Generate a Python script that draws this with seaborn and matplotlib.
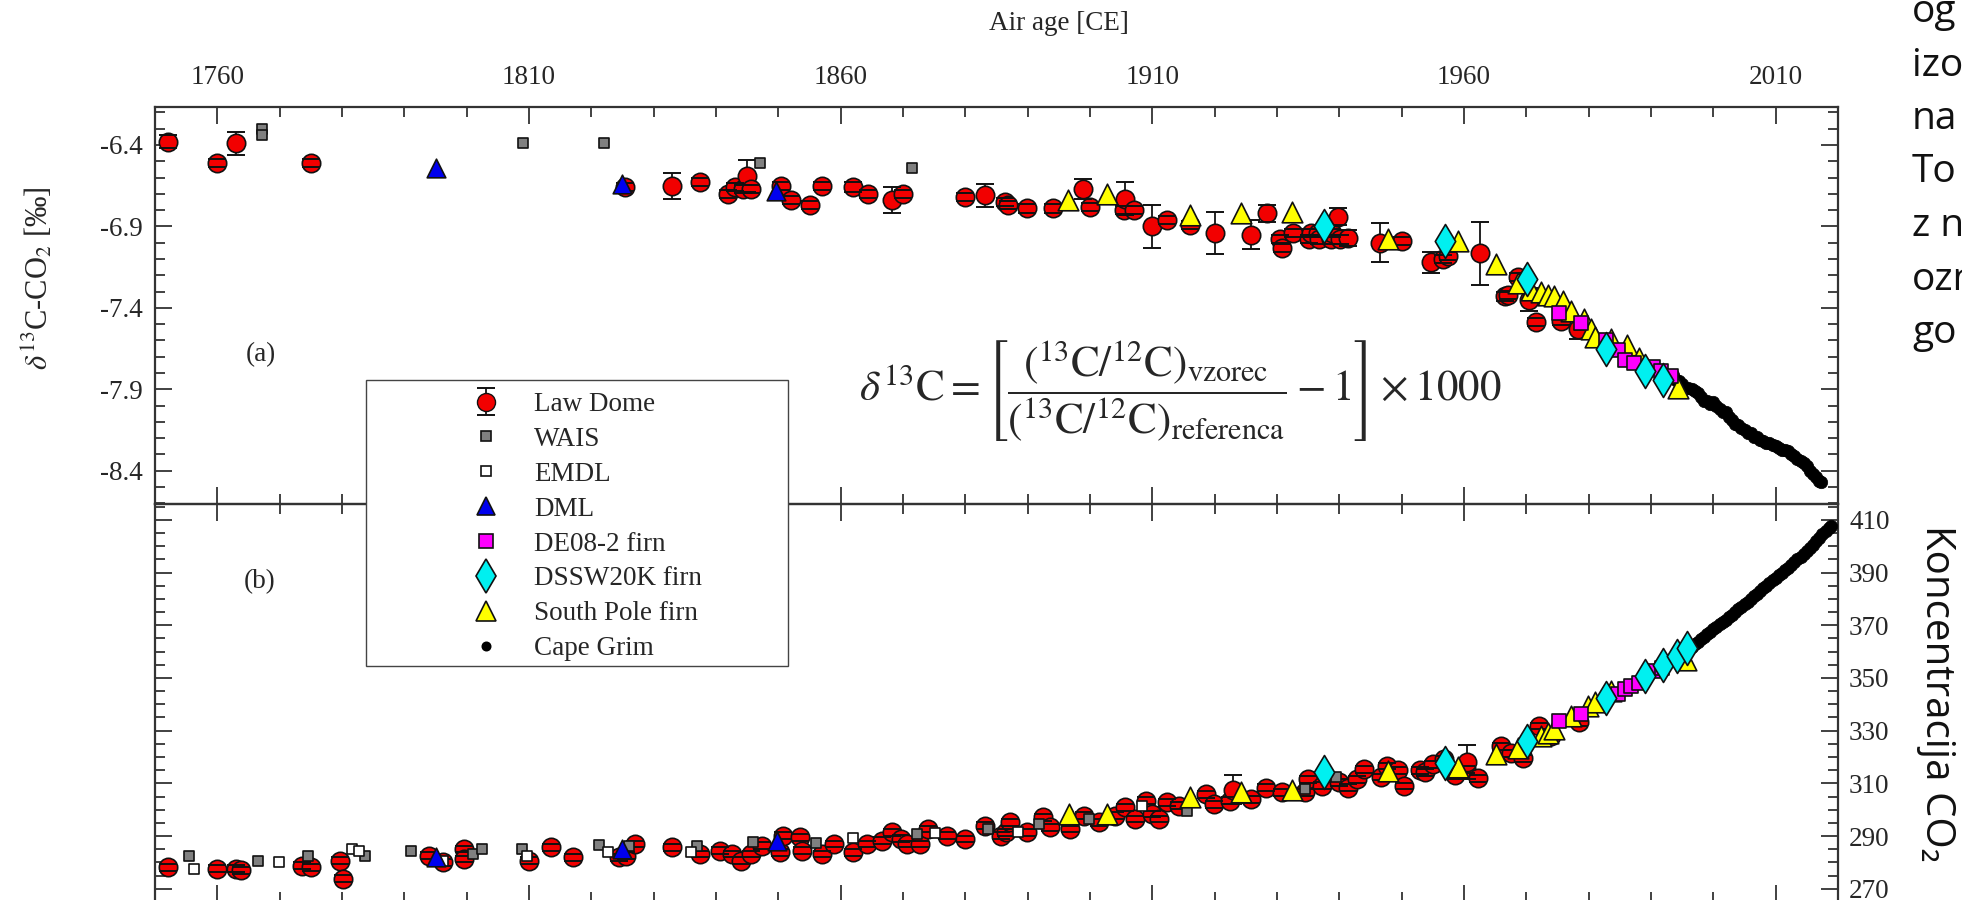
import numpy as np
import matplotlib
matplotlib.use("Agg")
import matplotlib.pyplot as plt
from matplotlib.lines import Line2D
from matplotlib.patches import Rectangle
from matplotlib.ticker import FixedLocator, FormatStrFormatter
import seaborn as sns

# ---------------- data ----------------
# panel (a): d13C-CO2 [permil]
ld_a_year = [1752.1, 1760.0, 1763.0, 1775.0, 1825.4, 1833.0, 1837.4, 1842.0, 1843.0, 1844.3,
             1845.0, 1845.6, 1850.5, 1852.0, 1855.0, 1857.0, 1862.0, 1864.4, 1868.2, 1870.0,
             1880.0, 1883.2, 1886.4, 1886.8, 1889.9, 1894.0, 1898.8, 1900.0, 1905.4, 1905.6,
             1907.0, 1909.9, 1912.4, 1916.0, 1920.0, 1925.8, 1928.4, 1930.5, 1930.8, 1932.6,
             1935.1, 1935.4, 1936.5, 1936.8, 1938.6, 1938.8, 1939.8, 1940.1, 1941.4, 1946.5,
             1950.0, 1954.7, 1956.6, 1957.4, 1962.6, 1966.5, 1967.0, 1968.7, 1970.4, 1971.6,
             1975.6, 1978.3]
ld_a_val = [-6.38, -6.51, -6.39, -6.51, -6.66, -6.65, -6.63, -6.70, -6.66, -6.67,
            -6.59, -6.67, -6.65, -6.74, -6.77, -6.65, -6.66, -6.70, -6.74, -6.70,
            -6.72, -6.71, -6.75, -6.77, -6.79, -6.79, -6.67, -6.78, -6.80, -6.73,
            -6.80, -6.90, -6.86, -6.89, -6.94, -6.95, -6.82, -6.975, -7.03, -6.94,
            -6.975, -6.94, -6.94, -6.98, -6.98, -6.94, -6.84, -6.98, -6.97, -7.00,
            -6.99, -7.12, -7.10, -7.08, -7.065, -7.33, -7.32, -7.21, -7.35, -7.485,
            -7.48, -7.53]
ld_a_err = [0.04, 0.025, 0.07, 0.025, 0.025, 0.08, 0.025, 0.025, 0.025, 0.025,
            0.10, 0.025, 0.025, 0.025, 0.025, 0.025, 0.03, 0.025, 0.08, 0.025,
            0.025, 0.07, 0.025, 0.025, 0.025, 0.025, 0.06, 0.025, 0.025, 0.10,
            0.025, 0.13, 0.025, 0.025, 0.13, 0.09, 0.05, 0.025, 0.025, 0.025,
            0.025, 0.025, 0.025, 0.025, 0.025, 0.025, 0.05, 0.025, 0.05, 0.12,
            0.025, 0.065, 0.025, 0.025, 0.195, 0.025, 0.025, 0.025, 0.07, 0.025,
            0.025, 0.06]

wais_a_year = [1767.1, 1767.1, 1809.0, 1822.0, 1847.0, 1871.4]
wais_a_val = [-6.30, -6.34, -6.39, -6.39, -6.51, -6.54]

dml_a_year = [1795.0, 1824.9, 1849.6]
dml_a_val = [-6.54, -6.64, -6.68]

sp_a_year = [1896.4, 1902.7, 1916.0, 1924.3, 1932.4, 1947.8, 1959.0, 1965.1, 1968.6, 1970.7,
             1972.4, 1973.5, 1974.5, 1975.9, 1977.2, 1979.3, 1980.4, 1981.0, 1983.6, 1986.1,
             1988.0, 1994.4]
sp_a_val = [-6.74, -6.70, -6.83, -6.82, -6.81, -6.98, -6.99, -7.13, -7.25, -7.29,
            -7.30, -7.32, -7.33, -7.36, -7.42, -7.47, -7.53, -7.58, -7.59, -7.63,
            -7.71, -7.89]

de08_a_year = [1975.3, 1978.7, 1982.8, 1984.7, 1985.8, 1987.3, 1990.3, 1991.6, 1993.2]
de08_a_val = [-7.43, -7.49, -7.60, -7.66, -7.72, -7.74, -7.76, -7.79, -7.82]

dssw_a_year = [1937.6, 1957.0, 1970.1, 1982.8, 1989.1, 1992.0]
dssw_a_val = [-6.90, -6.99, -7.22, -7.65, -7.79, -7.84]

cg_a_year = [1993.5, 1994.0, 1994.5, 1995.0, 1995.5, 1996.0, 1996.5, 1997.0, 1997.5, 1998.0,
             1998.5, 1999.0, 1999.5, 2000.0, 2000.5, 2001.0, 2001.5, 2002.0, 2002.5, 2003.0,
             2003.5, 2004.0, 2004.5, 2005.0, 2005.5, 2006.0, 2006.5, 2007.0, 2007.5, 2008.0,
             2008.5, 2009.0, 2009.5, 2010.0, 2010.5, 2011.0, 2011.5, 2012.0, 2012.5, 2013.0,
             2013.5, 2014.0, 2014.5, 2015.0, 2015.5, 2016.0, 2016.5, 2017.0, 2017.3]
cg_a_val = [-7.81, -7.84, -7.85, -7.87, -7.89, -7.89, -7.90, -7.91, -7.92, -7.95,
            -7.97, -7.97, -7.99, -7.98, -8.00, -8.02, -8.04, -8.04, -8.07, -8.09,
            -8.11, -8.12, -8.14, -8.15, -8.17, -8.17, -8.19, -8.19, -8.21, -8.22,
            -8.23, -8.23, -8.24, -8.25, -8.26, -8.27, -8.27, -8.28, -8.30, -8.31,
            -8.33, -8.34, -8.35, -8.37, -8.40, -8.42, -8.44, -8.46, -8.47]

# panel (b): CO2 [ppm]
ld_b_year = [1752.1, 1760.0, 1763.0, 1763.8, 1773.6, 1775.0, 1779.6, 1780.2, 1793.9, 1796.2,
             1799.5, 1799.5, 1810.0, 1813.6, 1817.0, 1824.5, 1825.5, 1827.0, 1833.0, 1837.4,
             1840.6, 1842.6, 1844.0, 1845.6, 1847.4, 1850.3, 1850.7, 1853.5, 1853.8, 1857.0,
             1858.9, 1862.0, 1864.3, 1866.7, 1868.2, 1869.6, 1870.7, 1872.8, 1874.0, 1877.0,
             1880.0, 1883.2, 1885.7, 1886.5, 1887.2, 1889.9, 1892.5, 1893.6, 1896.8, 1899.0,
             1901.5, 1904.0, 1905.6, 1907.2, 1909.0, 1910.0, 1911.1, 1912.4, 1914.3, 1918.6,
             1919.9, 1922.5, 1922.9, 1925.8, 1928.3, 1930.8, 1934.5, 1935.0, 1937.2, 1940.0,
             1941.4, 1942.8, 1944.0, 1946.7, 1947.6, 1949.4, 1950.3, 1953.0, 1953.7, 1955.0,
             1956.8, 1958.5, 1960.4, 1960.5, 1962.2, 1966.0, 1967.5, 1969.5, 1972.0, 1974.0,
             1978.5]
ld_b_val = [278.2, 277.6, 277.6, 277.0, 278.8, 278.2, 280.7, 273.8, 282.6, 280.1,
            285.1, 281.3, 280.7, 285.7, 282.0, 282.0, 282.6, 287.0, 285.7, 283.2,
            284.5, 283.2, 280.7, 283.2, 286.4, 283.9, 290.2, 289.6, 284.5, 283.2,
            287.0, 283.9, 287.0, 288.3, 291.5, 289.0, 287.0, 287.0, 292.7, 290.2,
            288.9, 294.0, 290.2, 291.5, 295.2, 291.5, 297.2, 293.4, 292.7, 297.8,
            295.2, 297.8, 300.9, 296.5, 303.4, 298.4, 296.5, 302.8, 301.5, 305.9,
            302.1, 303.4, 307.5, 304.0, 308.4, 306.6, 306.6, 311.6, 309.1, 310.4,
            308.4, 311.6, 315.4, 312.4, 316.6, 314.9, 309.0, 314.9, 314.2, 317.3,
            319.2, 313.0, 315.4, 318.0, 312.0, 324.0, 321.5, 319.5, 331.8, 328.0,
            333.2]
ld_b_err = [1.3] * 62 + [5.5] + [1.3] * 20 + [6.5] + [1.3] * 7

wais_b_year = [1755.5, 1766.5, 1774.6, 1783.7, 1791.0, 1801.0, 1802.5, 1808.9, 1821.2, 1826.0,
               1837.0, 1846.0, 1856.0, 1872.3, 1883.6, 1891.8, 1899.9, 1915.6, 1934.5, 1939.5]
wais_b_val = [282.6, 280.5, 282.6, 282.3, 284.2, 283.2, 285.1, 285.1, 286.7, 286.4,
              286.4, 287.8, 287.4, 290.8, 292.7, 294.6, 296.5, 299.6, 307.8, 312.4]

emdl_b_year = [1756.2, 1769.9, 1781.6, 1782.8, 1796.2, 1809.6, 1822.7, 1836.0, 1862.0, 1875.1,
               1888.4, 1908.3]
emdl_b_val = [277.6, 280.1, 285.1, 284.5, 280.7, 282.3, 283.9, 283.9, 289.2, 291.0,
              291.5, 301.5]

dml_b_year = [1795.0, 1824.9, 1849.8]
dml_b_val = [282.0, 285.1, 288.3]

sp_b_year = [1896.6, 1902.7, 1916.1, 1924.2, 1932.4, 1947.8, 1959.0, 1965.2, 1968.6, 1972.3,
             1973.4, 1974.5, 1977.2, 1979.9, 1981.0, 1983.6, 1995.6]
sp_b_val = [298.4, 298.4, 304.7, 306.6, 307.6, 314.8, 316.4, 321.1, 323.6, 328.0,
            329.3, 330.5, 335.6, 339.4, 340.7, 345.0, 357.0]

de08_b_year = [1975.3, 1978.8, 1984.7, 1985.8, 1986.8, 1988.0, 1990.4, 1991.7]
de08_b_val = [333.5, 336.5, 343.8, 345.7, 346.9, 348.2, 352.6, 353.8]

dssw_b_year = [1937.6, 1957.0, 1970.1, 1982.8, 1989.1, 1992.0, 1994.1, 1995.8]
dssw_b_val = [314.2, 317.7, 326.1, 342.5, 350.7, 354.8, 358.3, 361.5]

cg_b_year = [1994.0, 1994.5, 1995.0, 1995.5, 1996.0, 1996.5, 1997.0, 1997.5, 1998.0, 1998.5,
             1999.0, 1999.5, 2000.0, 2000.5, 2001.0, 2001.5, 2002.0, 2002.5, 2003.0, 2003.5,
             2004.0, 2004.5, 2005.0, 2005.5, 2006.0, 2006.5, 2007.0, 2007.5, 2008.0, 2008.5,
             2009.0, 2009.5, 2010.0, 2010.5, 2011.0, 2011.5, 2012.0, 2012.5, 2013.0, 2013.5,
             2014.0, 2014.5, 2015.0, 2015.5, 2016.0, 2016.5, 2017.0, 2017.5, 2018.0, 2018.5,
             2018.8]
cg_b_val = [357.5, 358.3, 359.2, 360.0, 361.0, 361.9, 362.8, 363.8, 364.6, 365.6,
            366.5, 367.4, 368.6, 369.4, 370.3, 371.3, 372.1, 373.2, 374.0, 375.1,
            376.0, 377.0, 378.0, 379.0, 379.9, 381.0, 381.9, 383.0, 384.0, 385.0,
            385.9, 387.0, 388.0, 389.0, 389.9, 391.0, 391.9, 393.0, 393.9, 395.1,
            396.0, 397.2, 398.1, 399.4, 400.6, 402.0, 403.2, 404.6, 405.7, 406.8,
            407.5]

year_major = [1760, 1810, 1860, 1910, 1960, 2010]
d13c_major = [-6.4, -6.9, -7.4, -7.9, -8.4]
co2_major = [270, 290, 310, 330, 350, 370, 390, 410]

legend_labels = ["Law Dome", "WAIS", "EMDL", "DML", "DE08-2 firn",
                 "DSSW20K firn", "South Pole firn", "Cape Grim"]

# ---------------- style ----------------
sns.set_style("white")
plt.rcParams["font.family"] = ["Liberation Serif", "DejaVu Serif"]
plt.rcParams["axes.unicode_minus"] = False
plt.rcParams["mathtext.fontset"] = "stix"

RED = "#f20000"
GRAY = "#808080"
BLUE = "#0000ee"
YELLOW = "#ffff00"
MAGENTA = "#ff00ff"
CYAN = "#00f0f0"
EDGE = "#111111"
SPINE = "#333333"
FS = 19.5

W, H = 1962, 900
fig = plt.figure(figsize=(W / 100, H / 100), dpi=100)
left, right = 155, 1838
top, mid, bottom = 107, 504, 902
ax_a = fig.add_axes([left / W, 1 - mid / H, (right - left) / W, (mid - top) / H])
ax_b = fig.add_axes([left / W, 1 - bottom / H, (right - left) / W, (bottom - mid) / H])


def scatter(ax, x, y, marker, s, color, z, edge=EDGE, lw=1.2):
    sns.scatterplot(x=x, y=y, ax=ax, marker=marker, s=s, color=color,
                    edgecolor=edge, linewidth=lw, zorder=z, legend=False)


def law_dome(ax, x, y, err, cap):
    scatter(ax, x, y, "o", 175, RED, 3)
    _, caps, bars = ax.errorbar(x, y, yerr=err, fmt="none", ecolor=EDGE,
                                elinewidth=1.3, capsize=cap, capthick=1.4)
    for c in caps:
        c.set_zorder(3.5)
    for b in bars:
        b.set_zorder(2.5)


def draw_panel(ax, d):
    law_dome(ax, d["ld"][0], d["ld"][1], d["ld"][2], 6.3)
    if d.get("wais"):
        scatter(ax, *d["wais"], "s", 50, GRAY, 4)
    if d.get("emdl"):
        scatter(ax, *d["emdl"], "s", 45, "white", 4)
    scatter(ax, *d["dml"], "^", 180, BLUE, 4)
    scatter(ax, *d["cg"], "o", 80, "black", 5, edge="black", lw=0.5)
    scatter(ax, *d["sp"], "^", 220, YELLOW, 5.5)
    scatter(ax, *d["de08"], "s", 100, MAGENTA, 6)
    scatter(ax, *d["dssw"], "d", 300, CYAN, 7)


draw_panel(ax_a, {"ld": (ld_a_year, ld_a_val, ld_a_err),
                  "wais": (wais_a_year, wais_a_val),
                  "dml": (dml_a_year, dml_a_val),
                  "cg": (cg_a_year, cg_a_val),
                  "sp": (sp_a_year, sp_a_val),
                  "de08": (de08_a_year, de08_a_val),
                  "dssw": (dssw_a_year, dssw_a_val)})
draw_panel(ax_b, {"ld": (ld_b_year, ld_b_val, ld_b_err),
                  "wais": (wais_b_year, wais_b_val),
                  "emdl": (emdl_b_year, emdl_b_val),
                  "dml": (dml_b_year, dml_b_val),
                  "cg": (cg_b_year, cg_b_val),
                  "sp": (sp_b_year, sp_b_val),
                  "de08": (de08_b_year, de08_b_val),
                  "dssw": (dssw_b_year, dssw_b_val)})

# axes limits and ticks
for ax in (ax_a, ax_b):
    ax.set_xlim(1750, 2020)
    ax.xaxis.set_major_locator(FixedLocator(year_major))
    ax.xaxis.set_minor_locator(FixedLocator(list(range(1750, 2021, 10))))
    ax.set_xlabel("")
    ax.set_ylabel("")
    for sp in ax.spines.values():
        sp.set_color(SPINE)
        sp.set_linewidth(1.6)
    ax.tick_params(which="both", direction="in", color=SPINE, width=1.3,
                   top=True, bottom=True, left=True, right=True, labelsize=FS)
    ax.tick_params(which="major", length=12)
    ax.tick_params(which="minor", length=7)
    ax.patch.set_alpha(0)

ax_a.set_ylim(-8.604, -6.167)
ax_a.yaxis.set_major_locator(FixedLocator(d13c_major))
ax_a.yaxis.set_minor_locator(FixedLocator([-8.6 + 0.1 * i for i in range(25)]))
ax_a.yaxis.set_major_formatter(FormatStrFormatter("%.1f"))
ax_a.tick_params(axis="x", labeltop=True, labelbottom=False, pad=12)
ax_a.tick_params(axis="y", labelleft=True, labelright=False, pad=9)

ax_b.set_ylim(265.0, 416.0)
ax_b.yaxis.set_major_locator(FixedLocator(co2_major))
ax_b.yaxis.set_minor_locator(FixedLocator(list(range(265, 417, 5))))
ax_b.tick_params(axis="x", labeltop=False, labelbottom=False)
ax_b.tick_params(axis="y", labelleft=False, labelright=True, pad=8)

# texts
fig.text(1059 / W, 1 - 24 / H, "Air age [CE]", ha="center", va="center", fontsize=FS)
fig.text(38 / W, 1 - 278 / H, r"$\delta^{13}$C-CO$_2$ [‰]", rotation=90,
         ha="center", va="center", fontsize=22)
fig.text(261 / W, 1 - 355 / H, "(a)", ha="center", va="center", fontsize=FS)
fig.text(260 / W, 1 - 582 / H, "(b)", ha="center", va="center", fontsize=FS)

eq = (r"$\delta^{13}\mathrm{C} = \left[\dfrac{({}^{13}\mathrm{C}/{}^{12}\mathrm{C})_{\mathrm{vzorec}}}"
      r"{({}^{13}\mathrm{C}/{}^{12}\mathrm{C})_{\mathrm{referenca}}} - 1\right] \times 1000$")
fig.text(1180 / W, 1 - 391 / H, eq, ha="center", va="center", fontsize=31)

sans = ["Open Sans", "Noto Sans", "DejaVu Sans"]
fig.text(1936 / W, 1 - 693 / H, "Koncentracija CO₂", rotation=-90, ha="center",
         va="center", fontsize=29, family=sans, color="#111111")
side_words = ["og", "izo", "na", "To", "z n", "ozn", "go"]
for i, w in enumerate(side_words):
    fig.text(1912 / W, 1 - (22 + 53.5 * i) / H, w, ha="left", va="baseline",
             fontsize=28, family=sans, color="#111111")

# legend: white box spanning both panels
fig.add_artist(Rectangle((366 / W, 1 - 666 / H), (788 - 366) / W, (666 - 380) / H,
                         transform=fig.transFigure, facecolor="white",
                         edgecolor="#444444", linewidth=1.0, zorder=4))
ld_handle = ax_a.errorbar([np.nan], [np.nan], yerr=[0.1], fmt="o", mfc=RED, mec=EDGE,
                          ms=13, ecolor=EDGE, elinewidth=1.3, capsize=6.5, capthick=1.4)


def mk(marker, ms, fc, ec=EDGE):
    return Line2D([], [], ls="none", marker=marker, ms=ms, mfc=fc, mec=ec, mew=1.2)


handles = [ld_handle, mk("s", 7, GRAY), mk("s", 7, "white"), mk("^", 13, BLUE),
           mk("s", 10, MAGENTA), mk("d", 17, CYAN), mk("^", 15, YELLOW),
           mk("o", 6, "black", "black")]
leg = fig.legend(handles, legend_labels, loc="upper left",
                 bbox_to_anchor=(472 / W, 1 - 392 / H), frameon=False, fontsize=FS,
                 handlelength=1.0, handletextpad=1.3, labelspacing=0.365,
                 borderpad=0, borderaxespad=0)
leg.set_zorder(6)

fig.savefig("out.png", dpi=100)
